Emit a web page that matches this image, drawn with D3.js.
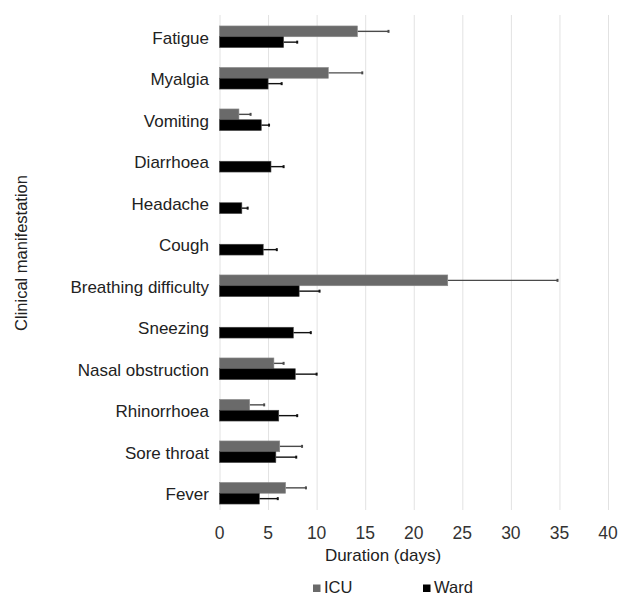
<!DOCTYPE html>
<html>
<head>
<meta charset="utf-8">
<script src="https://cdn.jsdelivr.net/npm/d3@7"></script>
<style>
  body { margin: 0; background: #fff; }
  svg { display: block; font-family: "Liberation Sans", Arial, sans-serif; }
</style>
</head>
<body>
<script>
const symptoms = ["Fatigue", "Myalgia", "Vomiting", "Diarrhoea", "Headache", "Cough", "Breathing difficulty", "Sneezing", "Nasal obstruction", "Rhinorrhoea", "Sore throat", "Fever"]
// null = no ICU bar for that symptom
const icuMean = [14.2, 11.2, 2.0, null, null, null, 23.5, null, 5.6, 3.1, 6.2, 6.8]
const icuErr = [17.4, 14.7, 3.2, null, null, null, 34.8, null, 6.6, 4.6, 8.5, 8.9]
const wardMean = [6.6, 5.0, 4.3, 5.3, 2.3, 4.5, 8.2, 7.6, 7.8, 6.1, 5.8, 4.1]
const wardErr = [8.0, 6.4, 5.1, 6.6, 2.9, 5.9, 10.3, 9.4, 10.0, 8.0, 7.9, 6.0]
const xTicks = [0, 5, 10, 15, 20, 25, 30, 35, 40]
const seriesNames = ["ICU", "Ward"]
const seriesColors = ["#6a6a6a", "#000000"]

const width = 619
const height = 597
const margin = { top: 16, right: 11, bottom: 83, left: 219.5 }

const svg = d3.select("body").append("svg")
    .attr("width", width)
    .attr("height", height)

const x = d3.scaleLinear()
    .domain([0, 40])
    .range([margin.left, width - margin.right])

const y = d3.scaleBand()
    .domain(symptoms)
    .range([margin.top, height - margin.bottom])
    .paddingInner(0.48)
    .paddingOuter(0.24)

const sub = d3.scaleBand()
    .domain(seriesNames)
    .range([0, y.bandwidth()])

// gridlines
svg.append("g")
    .selectAll("line")
    .data(xTicks)
    .join("line")
    .attr("x1", d => x(d) + 0.5)
    .attr("x2", d => x(d) + 0.5)
    .attr("y1", margin.top - 1)
    .attr("y2", height - margin.bottom - 4)
    .attr("stroke", "#e2e2e2")
    .attr("stroke-width", 1)

// tick labels
svg.append("g")
    .selectAll("text")
    .data(xTicks)
    .join("text")
    .attr("x", d => x(d))
    .attr("y", 539)
    .attr("text-anchor", "middle")
    .attr("font-size", 17.5)
    .attr("fill", "#333")
    .text(d => d)

// category labels
svg.append("g")
    .selectAll("text")
    .data(symptoms)
    .join("text")
    .attr("x", 209)
    .attr("y", d => y(d) + y.bandwidth() / 2 + 7)
    .attr("text-anchor", "end")
    .attr("font-size", 17)
    .attr("fill", "#222")
    .text(d => d)

const rows = symptoms.map((s, i) => [
    { symptom: s, series: "ICU", mean: icuMean[i], err: icuErr[i] },
    { symptom: s, series: "Ward", mean: wardMean[i], err: wardErr[i] }
]).flat().filter(d => d.mean != null)

const color = d3.scaleOrdinal().domain(seriesNames).range(seriesColors)

// error bars (behind bars)
const errG = svg.append("g")
errG.selectAll("line.err")
    .data(rows)
    .join("line")
    .attr("class", "err")
    .attr("x1", d => x(d.mean))
    .attr("x2", d => x(d.err))
    .attr("y1", d => y(d.symptom) + sub(d.series) + sub.bandwidth() / 2)
    .attr("y2", d => y(d.symptom) + sub(d.series) + sub.bandwidth() / 2)
    .attr("stroke", d => d.series == "ICU" ? "#4a4a4a" : "#111")
    .attr("stroke-width", 1.4)
errG.selectAll("line.cap")
    .data(rows)
    .join("line")
    .attr("class", "cap")
    .attr("x1", d => x(d.err))
    .attr("x2", d => x(d.err))
    .attr("y1", d => y(d.symptom) + sub(d.series) + sub.bandwidth() / 2 - 1.5)
    .attr("y2", d => y(d.symptom) + sub(d.series) + sub.bandwidth() / 2 + 1.5)
    .attr("stroke", d => d.series == "ICU" ? "#4a4a4a" : "#111")
    .attr("stroke-width", 2)

// bars
svg.append("g")
    .selectAll("rect")
    .data(rows)
    .join("rect")
    .attr("x", x(0))
    .attr("y", d => y(d.symptom) + sub(d.series))
    .attr("width", d => x(d.mean) - x(0))
    .attr("height", sub.bandwidth())
    .attr("fill", d => color(d.series))
    .attr("stroke", d => d.series == "ICU" ? "#8a8a8a" : "#444")
    .attr("stroke-width", 0.6)

// axis titles
svg.append("text")
    .attr("x", 383)
    .attr("y", 561)
    .attr("text-anchor", "middle")
    .attr("font-size", 17)
    .attr("fill", "#222")
    .text("Duration (days)")

svg.append("text")
    .attr("transform", "translate(27,253) rotate(-90)")
    .attr("text-anchor", "middle")
    .attr("font-size", 16.5)
    .attr("fill", "#222")
    .text("Clinical manifestation")

// legend
const legendX = [313, 423]
const legend = svg.append("g")
    .selectAll("g")
    .data(seriesNames)
    .join("g")
    .attr("transform", (d, i) => `translate(${legendX[i]},584.5)`)
legend.append("rect")
    .attr("width", 7.5)
    .attr("height", 7.5)
    .attr("fill", d => color(d))
legend.append("text")
    .attr("x", 11)
    .attr("y", 8.5)
    .attr("font-size", 16.5)
    .attr("fill", "#222")
    .text(d => d)
</script>
</body>
</html>
